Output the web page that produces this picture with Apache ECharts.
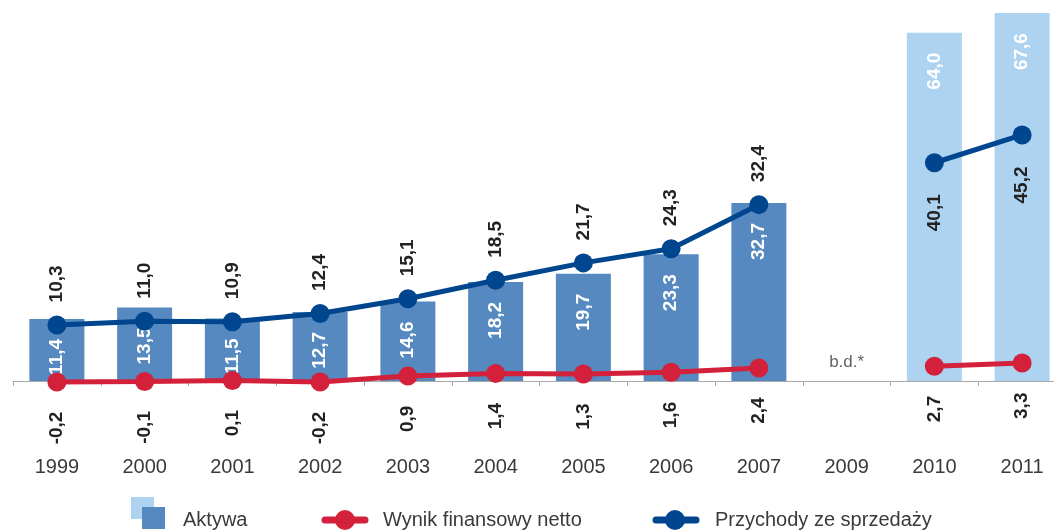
<!DOCTYPE html>
<html>
<head>
<meta charset="utf-8">
<script src="https://cdn.jsdelivr.net/npm/echarts@6/dist/echarts.min.js"></script>
<style>html,body{margin:0;padding:0;background:#fff}#c{width:1054px;height:531px}</style>
</head>
<body>
<div id="c"></div>
<script>
const years = ['1999','2000','2001','2002','2003','2004','2005','2006','2007','2009','2010','2011'];
const aktywa = [11.4, 13.5, 11.5, 12.7, 14.6, 18.2, 19.7, 23.3, 32.7, null, 64.0, 67.6];
const wynik = [-0.2, -0.1, 0.1, -0.2, 0.9, 1.4, 1.3, 1.6, 2.4, null, 2.7, 3.3];
const przychody = [10.3, 11.0, 10.9, 12.4, 15.1, 18.5, 21.7, 24.3, 32.4, null, 40.1, 45.2];
const noDataYear = '2009';
const noDataText = 'b.d.*';
const newPeriodStart = 10; // index from which bars are light

const fmt = v => (v == null ? '' : v.toFixed(1).replace('.', ','));
const FONT = 'Liberation Sans, Arial, sans-serif';
const DARK = '#5589c0', LIGHT = '#aed3f0', BLUE = '#00468f', RED = '#d3203b';

const chart = echarts.init(document.getElementById('c'), null, {renderer: 'canvas'});
const option = {
  animation: false,
  backgroundColor: '#fff',
  grid: {left: 13, right: -12, top: 0, bottom: 150, outerBoundsMode: 'none', containLabel: false},
  xAxis: {
    type: 'category',
    data: years,
    axisLine: {onZero: false, lineStyle: {color: '#a8a8a8', width: 1}},
    axisTick: {show: true, length: 5, lineStyle: {color: '#a8a8a8'}},
    axisLabel: {margin: 76, fontFamily: FONT, fontSize: 20, color: '#3a3a3a'}
  },
  yAxis: {
    type: 'value', min: 0, max: 70,
    show: false, splitLine: {show: false}
  },
  series: [
    {
      name: 'Aktywa', type: 'bar', barWidth: 55,
      data: aktywa.map((v, i) => ({
        value: v,
        itemStyle: {color: i >= newPeriodStart ? LIGHT : DARK}
      })),
      label: {
        show: true, position: 'insideTop', distance: 20, rotate: 90,
        align: 'right', verticalAlign: 'middle',
        formatter: p => fmt(p.value),
        fontFamily: FONT, fontSize: 19, fontWeight: 'bold', color: '#fff'
      },
      z: 1
    },
    {
      name: 'Wynik finansowy netto', type: 'line', data: wynik,
      connectNulls: false, clip: false,
      symbol: 'circle', symbolSize: 19,
      lineStyle: {color: RED, width: 5}, itemStyle: {color: RED},
      label: {
        show: true, position: 'bottom', distance: 20, rotate: 90,
        align: 'right', verticalAlign: 'middle',
        formatter: p => fmt(p.value),
        fontFamily: FONT, fontSize: 19, fontWeight: 'bold', color: '#222'
      },
      z: 3
    },
    {
      name: 'Przychody ze sprzedaży', type: 'line',
      data: przychody.map((v, i) => i >= newPeriodStart
        ? {value: v, label: {position: 'bottom', distance: 22, align: 'right'}}
        : v),
      connectNulls: false, clip: false,
      symbol: 'circle', symbolSize: 19,
      lineStyle: {color: BLUE, width: 5}, itemStyle: {color: BLUE},
      label: {
        show: true, position: 'top', distance: 13, rotate: 90,
        align: 'left', verticalAlign: 'middle',
        formatter: p => fmt(p.value),
        fontFamily: FONT, fontSize: 19, fontWeight: 'bold', color: '#222'
      },
      z: 4
    },
    {
      name: 'bd', type: 'scatter', data: [[noDataYear, 0]],
      symbolSize: 1, itemStyle: {color: 'rgba(0,0,0,0)'},
      label: {
        show: true, position: 'top', distance: 10,
        formatter: noDataText,
        fontFamily: FONT, fontSize: 17, color: '#3a3a3a'
      },
      silent: true
    }
  ],
  graphic: [
    {type: 'rect', shape: {x: 131, y: 497, width: 23, height: 22}, style: {fill: LIGHT}},
    {type: 'rect', shape: {x: 142, y: 507, width: 23, height: 22}, style: {fill: DARK}},
    {type: 'text', x: 183, y: 520, style: {text: 'Aktywa', font: '20px ' + FONT, fill: '#3a3a3a', verticalAlign: 'middle'}},
    {type: 'line', shape: {x1: 325, y1: 520, x2: 365, y2: 520}, style: {stroke: RED, lineWidth: 7, lineCap: 'round'}},
    {type: 'circle', shape: {cx: 345, cy: 520, r: 10}, style: {fill: RED}},
    {type: 'text', x: 383, y: 520, style: {text: 'Wynik finansowy netto', font: '20px ' + FONT, fill: '#3a3a3a', verticalAlign: 'middle'}},
    {type: 'line', shape: {x1: 656, y1: 520, x2: 696, y2: 520}, style: {stroke: BLUE, lineWidth: 7, lineCap: 'round'}},
    {type: 'circle', shape: {cx: 675, cy: 520, r: 10}, style: {fill: BLUE}},
    {type: 'text', x: 715, y: 520, style: {text: 'Przychody ze sprzedaży', font: '20px ' + FONT, fill: '#3a3a3a', verticalAlign: 'middle'}}
  ]
};
chart.setOption(option);
</script>
</body>
</html>
